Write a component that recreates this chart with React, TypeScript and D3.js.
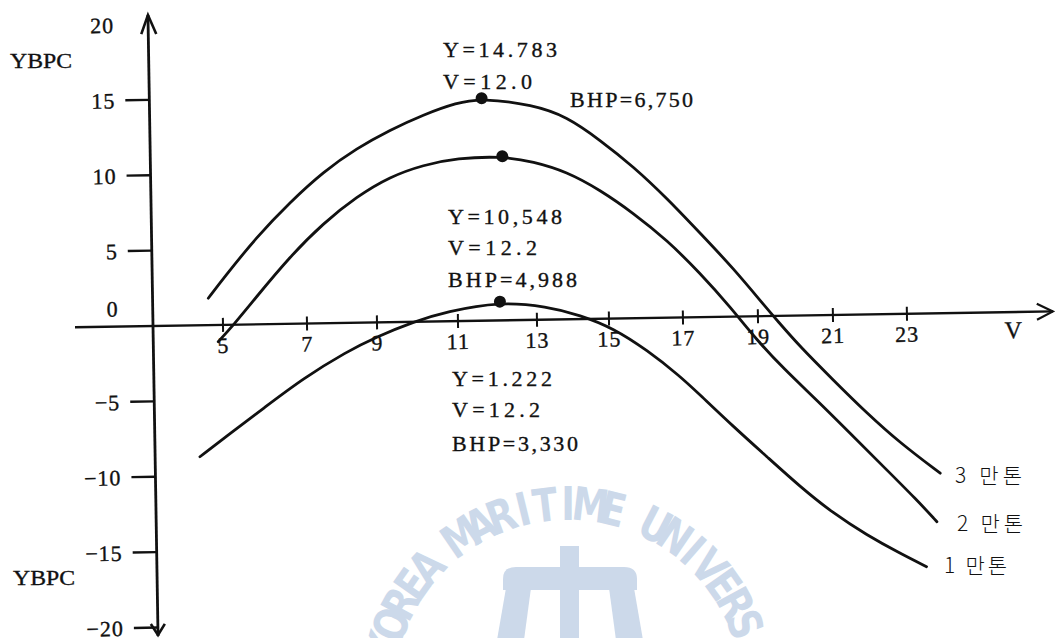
import React from 'react';
import * as d3 from 'd3';

// ---- data ----
const xTickValues = [5, 7, 9, 11, 13, 15, 17, 19, 21, 23];
const yTickValues = [-20, -15, -10, -5, 0, 5, 10, 15, 20];

const v10k = [4.40, 5.13, 5.93, 6.89, 8.12, 8.99, 9.90, 10.72, 12.07, 13.28, 14.20, 15.12, 16.01, 16.90, 17.42, 18.30, 19.18, 20.05, 20.92, 21.82, 22.71, 23.42];
const y10k = [-8.72, -7.20, -5.58, -3.63, -1.91, -0.95, 0.00, 0.63, 1.24, 0.86, 0.27, -0.65, -2.12, -3.90, -5.15, -7.30, -9.33, -11.35, -13.15, -14.63, -15.88, -16.79];

const v20k = [4.88, 5.25, 5.81, 6.62, 7.51, 8.48, 9.38, 10.21, 11.04, 12.19, 12.97, 13.89, 14.81, 15.71, 16.60, 17.48, 18.26, 18.96, 19.66, 20.54, 21.41, 22.30, 23.19, 23.72];
const y20k = [-1.11, -0.02, 1.83, 4.45, 6.63, 8.36, 9.65, 10.39, 10.80, 10.88, 10.49, 9.79, 8.54, 6.96, 5.15, 2.91, 0.66, -1.58, -3.50, -5.65, -7.86, -10.11, -12.36, -13.82];

const v30k = [4.66, 5.03, 5.84, 6.64, 7.54, 8.50, 9.40, 10.23, 11.06, 11.69, 12.99, 13.92, 14.83, 15.73, 16.62, 17.49, 18.36, 19.24, 19.50, 20.11, 20.98, 21.87, 22.76, 23.83];
const y30k = [1.78, 3.09, 5.81, 8.05, 10.05, 11.56, 12.74, 13.72, 14.48, 14.75, 14.25, 13.44, 11.85, 10.05, 7.92, 5.58, 3.22, 0.50, -0.27, -2.07, -4.31, -6.54, -8.56, -10.61];

const peakV = [12.07, 12.19, 11.69];
const peakY = [1.24, 10.88, 14.75];

const curveLabels = ['1 만톤', '2 만톤', '3 만톤'];
const annoLines = [
  ['Y=1.222', 'V=12.2', 'BHP=3,330'],
  ['Y=10,548', 'V=12.2', 'BHP=4,988'],
  ['Y=14.783', 'V=12.0', 'BHP=6,750'],
];
const axisYLabel = 'YBPC';
const axisXLabel = 'V';
const watermark = 'KOREA MARITIME UNIVERSITY';

// ---- layout ----
const W = 1055, H = 638;
const O = { x: 153, y: 326 };
const tilt = -0.93;
const xPix = [223, 307, 377, 458, 537, 609, 683, 758, 833, 907];
const ink = '#111';
const serif = '"Liberation Serif", "DejaVu Serif", serif';

const xScale = d3.scaleLinear().domain(xTickValues).range(xPix);
const yScale = d3.scaleLinear().domain([-20, 20]).range([O.y + 301.6, O.y - 301.6]);

const line = d3.line<[number, number]>()
  .x(d => xScale(d[0]))
  .y(d => yScale(d[1]))
  .curve(d3.curveBasis);

const series = [
  { v: v10k, y: y10k },
  { v: v20k, y: y20k },
  { v: v30k, y: y30k },
];

// annotation text layout (x, baseline, width)
const annoLayout = [
  [[452, 386, 100], [452, 417, 88], [452, 451, 126]],
  [[448, 224, 114], [448, 255, 89], [448, 287, 129]],
  [[443, 57, 114], [443, 89, 89], [570, 107, 123]],
];
const curveLabelLayout = [[944, 573, 63], [957, 531, 66], [955, 483, 67]];

const textStroke = { stroke: ink, strokeWidth: 0.35 };

function Watermark() {
  const cx = 568, cy = 694, r = 174;
  const col = '#ccd9ea';
  const chars = watermark.split('').map((c, i) => {
    const ang = 90 + (11 - i) * 6.85;
    const rad = (ang * Math.PI) / 180;
    return { c, i, ang, x: cx + r * Math.cos(rad), y: cy - r * Math.sin(rad) };
  }).filter(d => d.c !== ' ' && d.y < 650);
  return (
    <g fill={col}>
      {chars.map(d => (
        <text key={d.i} transform={`translate(${d.x},${d.y}) rotate(${90 - d.ang}) scale(0.8,1)`}
          textAnchor="middle" fontFamily='"DejaVu Sans", sans-serif' fontWeight="bold" fontSize={46}>{d.c}</text>
      ))}
      <rect x={560} y={546} width={19} height={95} />
      <path d="M503,590 L503,579 Q503,567 516,567 L624,567 Q637,567 637,579 L637,590 Z" />
      <path d="M506,588 L531,588 L524,640 L497,640 Z" />
      <path d="M609,588 L634,588 L643,640 L616,640 Z" />
    </g>
  );
}

export default function App() {
  return (
    <svg width={W} height={H} style={{ position: 'absolute', left: 0, top: 0, background: '#fff' }}>
      <rect width={W} height={H} fill="#fff" />
      <Watermark />
      <g transform={`rotate(${tilt}, ${O.x}, ${O.y})`}>
        {/* x axis */}
        <line x1={O.x - 78} x2={O.x + 900} y1={O.y} y2={O.y} stroke={ink} strokeWidth={2.4} />
        <path d={`M${O.x + 884},${O.y - 8} L${O.x + 900},${O.y} L${O.x + 884},${O.y + 8}`} fill="none" stroke={ink} strokeWidth={2.2} />
        {xTickValues.map(v => (
          <g key={v}>
            <line x1={xScale(v)} x2={xScale(v)} y1={O.y - 7} y2={O.y + 7} stroke={ink} strokeWidth={2} />
            <text x={xScale(v)} y={O.y + 28} textAnchor="middle" fontFamily={serif} fontSize={22} letterSpacing={1} fill={ink} {...textStroke}>{v}</text>
          </g>
        ))}
        <text x={O.x + 860} y={O.y + 26} textAnchor="middle" fontFamily={serif} fontSize={24} fill={ink} {...textStroke}>{axisXLabel}</text>
        {/* y axis */}
        <line x1={O.x} x2={O.x} y1={O.y - 311} y2={O.y + 310} stroke={ink} strokeWidth={2.8} />
        <path d={`M${O.x - 7},${O.y - 292} L${O.x},${O.y - 311} L${O.x + 8},${O.y - 292}`} fill="none" stroke={ink} strokeWidth={2.6} />
        <path d={`M${O.x - 7},${O.y + 298} L${O.x},${O.y + 309} L${O.x + 7},${O.y + 298}`} fill="none" stroke={ink} strokeWidth={2.6} />
        {yTickValues.map(v => (
          <g key={v}>
            {v !== 0 && v !== 20 && (
              <line x1={O.x - 24} x2={O.x} y1={yScale(v)} y2={yScale(v)} stroke={ink} strokeWidth={2.4} />
            )}
            <text x={O.x - 34} y={v === 0 ? O.y - 10 : yScale(v) + 8} textAnchor="end" fontFamily={serif} fontSize={22} letterSpacing={1} fill={ink} {...textStroke}>
              {v < 0 ? `−${-v}` : v}
            </text>
          </g>
        ))}
        {/* curves */}
        {series.map((s, i) => (
          <path key={i} d={line(s.v.map((v, j) => [v, s.y[j]] as [number, number])) || ''} fill="none" stroke={ink} strokeWidth={2.8} strokeLinecap="round" />
        ))}
        {peakV.map((v, i) => (
          <circle key={i} cx={xScale(v)} cy={yScale(peakY[i])} r={6} fill={ink} />
        ))}
      </g>
      {/* annotations */}
      {annoLines.map((lines, i) => lines.map((t, j) => {
        const [x, y, w] = annoLayout[i][j];
        return (
          <text key={`${i}-${j}`} x={x} y={y} textLength={w} lengthAdjust="spacing" fontFamily={serif} fontSize={22} fill={ink} {...textStroke}>{t}</text>
        );
      }))}
      {curveLabels.map((t, i) => {
        const [x, y, w] = curveLabelLayout[i];
        return (
          <text key={t} x={x} y={y} textLength={w} lengthAdjust="spacing" fontFamily='"Noto Sans CJK KR", sans-serif' fontWeight={300} fontSize={21} fill={ink}>{t}</text>
        );
      })}
      <text x={10} y={68} textLength={62} lengthAdjust="spacingAndGlyphs" fontFamily={serif} fontSize={22} fill={ink} {...textStroke}>{axisYLabel}</text>
      <text x={13} y={585} textLength={62} lengthAdjust="spacingAndGlyphs" fontFamily={serif} fontSize={22} fill={ink} {...textStroke}>{axisYLabel}</text>
    </svg>
  );
}
